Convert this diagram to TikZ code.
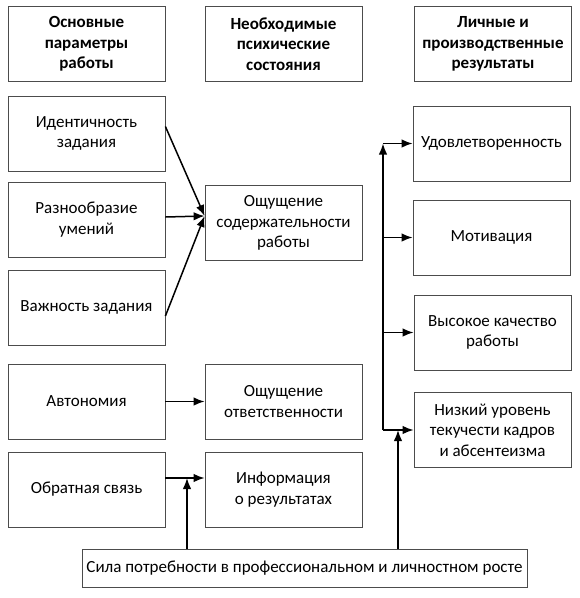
\documentclass[tikz,border=0pt]{standalone}
\usepackage{fontspec}
\setmainfont{Carlito}
\usetikzlibrary{arrows,arrows.meta,positioning,calc}
\tikzstyle{box}=[rectangle,draw=black!70,line width=0.8pt,minimum width=157pt,minimum height=75pt,align=center,inner sep=1pt,font=\fontsize{17}{20.5}\selectfont]
\tikzstyle{head}=[box,font=\fontsize{17}{20.5}\selectfont\bfseries]
\tikzstyle{arr}=[-{Latex[length=11pt,width=8.5pt]},line width=1.5pt]

\begin{document}
\begin{tikzpicture}[x=1pt,y=-1pt]
\useasboundingbox (0,0) rectangle (580,598);

\node (h1) at (86.5,44)  [head] {Основные\\параметры\\работы};
\node (h2) at (283.5,44) [head] {Необходимые\\психические\\состояния};
\node (h3) at (493,44)   [head] {Личные и\\производственные\\результаты};

\node (p1) at (86.5,133.5) [box] {Идентичность\\задания};
\node (p2) at (86.5,219.5) [box] {Разнообразие\\умений};
\node (p3) at (86.5,307.5) [box] {Важность задания};
\node (p4) at (86.5,401.5) [box] {Автономия};
\node (p5) at (86.5,489.5) [box] {Обратная связь};

\node (s1) at (283.5,223)   [box] {Ощущение\\содержательности\\работы};
\node (s2) at (283.5,401.5) [box] {Ощущение\\ответственности};
\node (s3) at (283.5,489.5) [box] {Информация\\о результатах};

\node (r1) at (491.5,143.5) [box] {Удовлетворенность};
\node (r2) at (491.5,237.5) [box] {Мотивация};
\node (r3) at (492.5,332.5) [box] {Высокое качество\\работы};
\node (r4) at (492.5,430)   [box] {Низкий уровень\\текучести кадров\\и абсентеизма};

\node (g) at (304.5,568) [box,minimum width=445pt,minimum height=38pt] {Сила потребности в профессиональном и личностном росте};

\coordinate (bus) at (383,0);
\coordinate (u1) at (187,478);
\coordinate (u2) at (398,430);

\draw[arr] ([yshift=7pt]p1.east) -- ([yshift=7pt]s1.west);
\draw[arr] ([yshift=2.5pt]p2.east) -- ([yshift=7pt]s1.west);
\draw[arr] ([yshift=-8.5pt]p3.east) -- ([yshift=7pt]s1.west);
\draw[arr] (p4) -- (s2);
\draw[arr] ([yshift=11.5pt]p5.east) -- ([yshift=11.5pt]s3.west);
\draw[arr] (g.north -| u1) -- (u1);

\draw[arr] (bus |- r4) -- (bus |- r1);
\draw[arr] (bus |- r1) -- (r1);
\draw[arr] (bus |- r2) -- (r2);
\draw[arr] (bus |- r3) -- (r3);
\draw[arr] (bus |- r4) -- (r4);
\draw[arr] (g.north -| u2) -- (u2);
\end{tikzpicture}
\end{document}
